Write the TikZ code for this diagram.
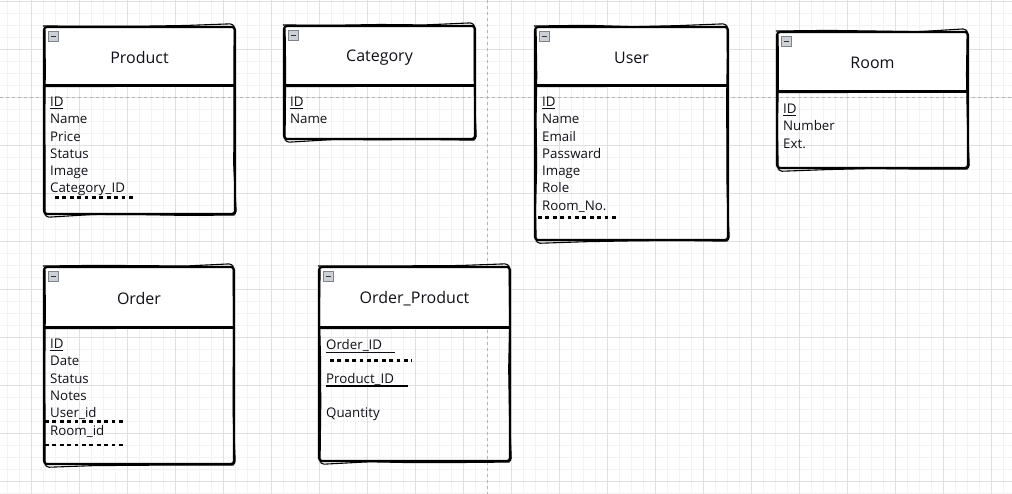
\documentclass[tikz,border=0pt]{standalone}
\usepackage{fontspec}
\setmainfont{Open Sans}
\usetikzlibrary{calc,decorations.pathmorphing}
\definecolor{gmin}{HTML}{F3F3F3}
\definecolor{gmaj}{HTML}{E0E0E0}
\definecolor{guide}{HTML}{B4B4B4}
\definecolor{ink}{HTML}{101018}
\definecolor{iconfill}{HTML}{CDD0D6}
\definecolor{iconline}{HTML}{7E838C}
\pgfmathsetseed{7}
\tikzset{
  x=1pt, y=-1pt,
  sketch/.style={line width=2.2pt, draw=black, rounded corners=3pt, line join=round},
  sketchb/.style={line width=1.1pt, draw=black, rounded corners=4pt, line join=round,
     decorate, decoration={random steps, segment length=45pt, amplitude=0.7pt}},
  titletext/.style={font=\fontsize{16}{19}\selectfont, text=ink, inner sep=0pt},
  attr/.style={font=\fontsize{13.3}{15}\selectfont, text=ink, inner sep=0pt, anchor=base west},
  fkdots/.style={line width=2.6pt, dash pattern=on 3.8pt off 3.6pt},
  iconbox/.style={fill=iconfill, draw=iconline, line width=0.7pt, minimum size=10pt, inner sep=0pt},
}
% #1 name, #2 x1, #3 y1, #4 x2, #5 y2, #6 header y, #7 title
\newcommand\entitybox[7]{%
  \fill[white] (#2,#3) rectangle (#4,#6);
  \coordinate (#1-nw) at (#2,#3);
  \coordinate (#1-se) at (#4,#5);
  \draw[sketch] (#1-nw) rectangle (#1-se);
  \draw[sketchb] ($(#1-nw)+(1.1,-1.0)$) rectangle ($(#1-se)+(-0.9,1.1)$);
  \coordinate (#1-hl) at (#2,#6);
  \coordinate (#1-hr) at (#4,#6);
  \draw[line width=2.1pt] (#1-hl) -- (#1-hr);
  \draw[line width=0.9pt] ($(#1-hl)+(1,1.2)$) -- ($(#1-hr)+(-1,0.8)$);
  \node[iconbox] (#1-icon) at ($(#1-nw)+(9.5,9.5)$) {};
  \draw[line width=1.1pt, black!80] ($(#1-icon.center)+(-2.8,0)$) -- ($(#1-icon.center)+(2.8,0)$);
  \node[titletext] (#1-title) at ($0.5*(#1-nw)+0.5*(#1-hr)+(0,1.5)$) {#7};
}
\begin{document}
\begin{tikzpicture}
\useasboundingbox (0,0) rectangle (1012,494);
\fill[white] (0,0) rectangle (1012,494);
% grid
\foreach \gx in {7,19,...,1012} \draw[gmin, line width=0.7pt] (\gx,0) -- (\gx,494);
\foreach \gy in {1,13,...,494} \draw[gmin, line width=0.7pt] (0,\gy) -- (1012,\gy);
\foreach \gx in {31,79,...,1012} \draw[gmaj, line width=0.8pt] (\gx,0) -- (\gx,494);
\foreach \gy in {1,49,...,494} \draw[gmaj, line width=0.8pt] (0,\gy) -- (1012,\gy);
% guides
\draw[guide, line width=0.6pt, dash pattern=on 3pt off 3pt] (0,97.5) -- (1012,97.5);
\draw[guide, line width=0.6pt, dash pattern=on 3pt off 3pt] (487.5,0) -- (487.5,494);

% Product
\entitybox{prod}{44}{27}{235}{214}{85.5}{Product}
\node[attr] (prod-a1) at (50,106.5) {ID};
\draw[line width=0.8pt, ink] (prod-a1.south west) ++(0,1.6) -- ++(13,0);
\node[attr] (prod-a2) at (50,123.8) {Name};
\node[attr] (prod-a3) at (50,141.1) {Price};
\node[attr] (prod-a4) at (50,158.4) {Status};
\node[attr] (prod-a5) at (50,175.7) {Image};
\node[attr] (prod-a6) at (50,193.0) {Category\_ID};
\coordinate (prod-d1) at (55,197.5);
\coordinate (prod-d2) at (136,197.5);
\draw[fkdots] (prod-d1) -- (prod-d2);

% Category
\entitybox{cat}{284}{26}{475}{139}{85.5}{Category}
\node[attr] (cat-a1) at (290,106.5) {ID};
\draw[line width=0.8pt, ink] (cat-a1.south west) ++(0,1.6) -- ++(13,0);
\node[attr] (cat-a2) at (290,123.8) {Name};

% User
\entitybox{user}{535}{27}{728}{240}{85.5}{User}
\node[attr] (user-a1) at (542,106.5) {ID};
\draw[line width=0.8pt, ink] (user-a1.south west) ++(0,1.6) -- ++(13,0);
\node[attr] (user-a2) at (542,123.8) {Name};
\node[attr] (user-a3) at (542,141.1) {Email};
\node[attr] (user-a4) at (542,158.4) {Passward};
\node[attr] (user-a5) at (542,175.7) {Image};
\node[attr] (user-a6) at (542,193.0) {Role};
\node[attr] (user-a7) at (542,210.3) {Room\_No.};
\coordinate (user-d1) at (538,217.5);
\coordinate (user-d2) at (616,217.5);
\draw[fkdots] (user-d1) -- (user-d2);

% Room
\entitybox{room}{777}{32}{968}{168}{91.5}{Room}
\node[attr] (room-a1) at (783,113.5) {ID};
\draw[line width=0.8pt, ink] (room-a1.south west) ++(0,1.6) -- ++(13,0);
\node[attr] (room-a2) at (783,130.8) {Number};
\node[attr] (room-a3) at (783,148.1) {Ext.};

% Order
\entitybox{ord}{44}{267}{234}{464}{327.5}{Order}
\node[attr] (ord-a1) at (50,348.5) {ID};
\draw[line width=0.8pt, ink] (ord-a1.south west) ++(0,1.6) -- ++(13,0);
\node[attr] (ord-a2) at (50,365.8) {Date};
\node[attr] (ord-a3) at (50,383.1) {Status};
\node[attr] (ord-a4) at (50,400.4) {Notes};
\node[attr] (ord-a5) at (50,417.7) {User\_id};
\node[attr] (ord-a6) at (50,435.0) {Room\_id};
\coordinate (ord-d1) at (45,421.5);
\coordinate (ord-d2) at (124,421.5);
\draw[fkdots] (ord-d1) -- (ord-d2);
\coordinate (ord-d3) at (45,445);
\coordinate (ord-d4) at (124,445);
\draw[fkdots] (ord-d3) -- (ord-d4);

% Order_Product
\entitybox{op}{319}{267}{510}{461}{327.5}{Order\_Product}
\node[attr] (op-a1) at (326,349.5) {Order\_ID};
\coordinate (op-u1) at (326,352.5);
\coordinate (op-u2) at (395,352.5);
\draw[line width=0.8pt, ink] (op-u1) -- (op-u2);
\coordinate (op-d1) at (330,360.5);
\coordinate (op-d2) at (412,360.5);
\draw[fkdots] (op-d1) -- (op-d2);
\node[attr] (op-a2) at (326,383) {Product\_ID};
\coordinate (op-u3) at (326,386);
\coordinate (op-u4) at (408,386);
\draw[line width=1.4pt, black] (op-u3) -- (op-u4);
\node[attr] (op-a3) at (326,417) {Quantity};
\end{tikzpicture}
\end{document}
